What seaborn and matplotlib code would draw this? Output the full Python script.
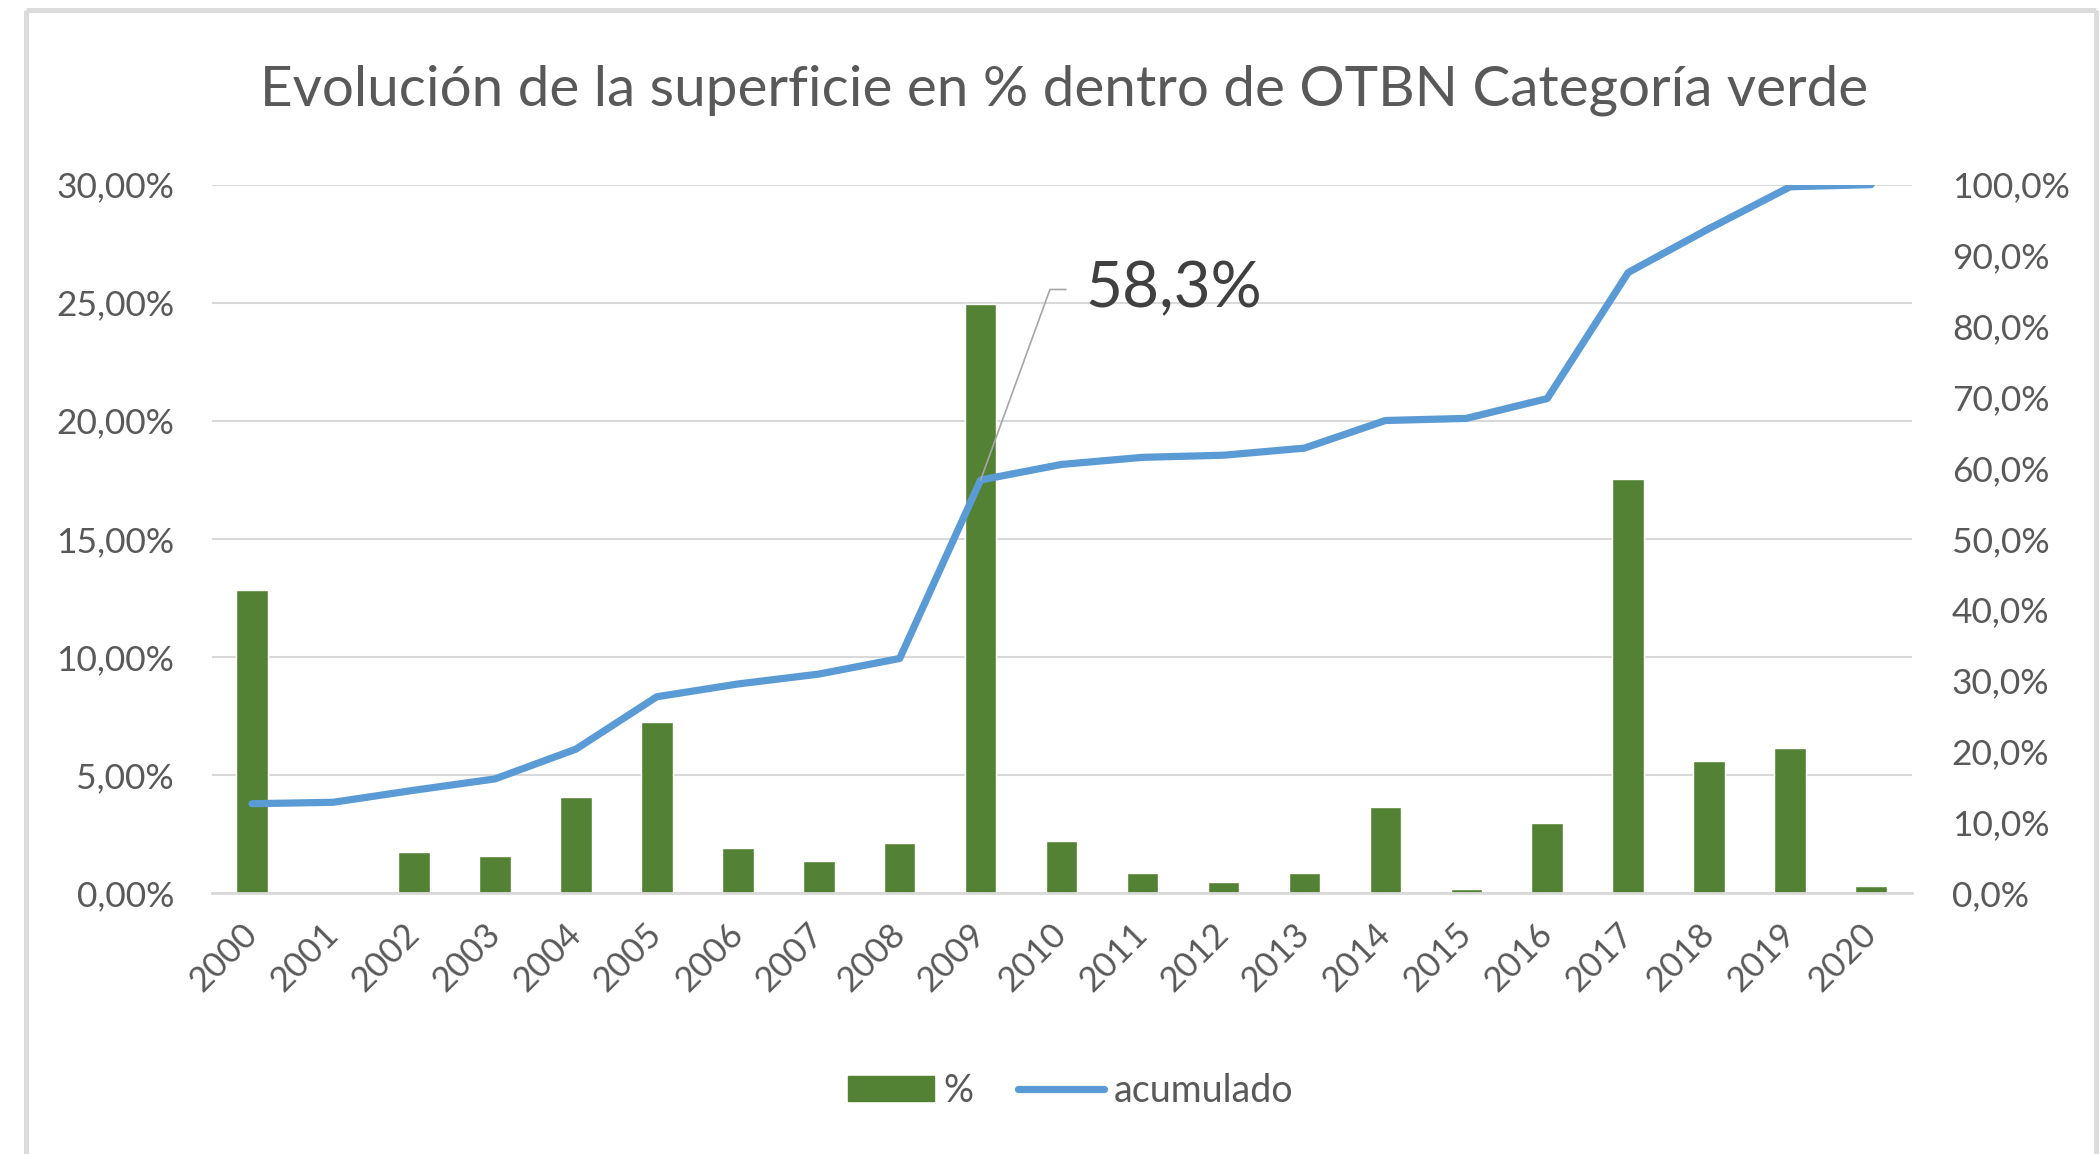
import numpy as np
import pandas as pd
import seaborn as sns
import matplotlib.pyplot as plt
from matplotlib.ticker import FuncFormatter, MultipleLocator
from matplotlib.patches import Patch
from matplotlib.lines import Line2D

# Datos
anios = [str(a) for a in range(2000, 2021)]
porcentaje = [12.85, 0.0, 1.75, 1.55, 4.05, 7.25, 1.90, 1.35, 2.10, 24.95, 2.20,
              0.85, 0.45, 0.85, 3.65, 0.15, 2.95, 17.55, 5.60, 6.15, 0.30]
acumulado = [12.6, 12.8, 14.5, 16.1, 20.3, 27.7, 29.5, 30.9, 33.1, 58.3, 60.5,
             61.5, 61.8, 62.8, 66.7, 67.0, 69.8, 87.6, 93.8, 99.7, 100.0]

df = pd.DataFrame({'anio': anios, 'pct': porcentaje, 'acum': acumulado})
df['pos'] = np.arange(len(df))

VERDE = '#548235'
AZUL = '#5b9bd5'
GRIS_TXT = '#595959'
GRIS_LIN = '#d9d9d9'

sns.set_theme(style='white')
plt.rcParams['font.family'] = ['Lato', 'DejaVu Sans']

fig = plt.figure(figsize=(20.99, 11.54), dpi=100)
ax = fig.add_axes([0.1008, 0.2262, 0.8099, 0.6138])
ax2 = ax.twinx()

# Barras (eje izquierdo)
sns.barplot(data=df, x='anio', y='pct', color=VERDE, width=0.39,
            saturation=1, ax=ax, zorder=2)
# Linea acumulada (eje derecho)
sns.lineplot(data=df, x='pos', y='acum', color=AZUL, linewidth=5.2,
             ax=ax2, solid_capstyle='round', zorder=3)

ax.set_xlim(-0.5, len(df) - 0.5)
ax.set_ylim(0, 30)
ax2.set_ylim(0, 100)
ax.yaxis.set_major_locator(MultipleLocator(5))
ax2.yaxis.set_major_locator(MultipleLocator(10))
ax.yaxis.set_major_formatter(FuncFormatter(lambda v, p: f'{v:.2f}%'.replace('.', ',')))
ax2.yaxis.set_major_formatter(FuncFormatter(lambda v, p: f'{v:.1f}%'.replace('.', ',')))

ax.grid(axis='y', color=GRIS_LIN, linewidth=1.5, zorder=0)
ax.set_axisbelow(True)
ax2.grid(False)

for a in (ax, ax2):
    for s in a.spines.values():
        s.set_visible(False)
    a.set_xlabel('')
    a.set_ylabel('')
ax.spines['bottom'].set_visible(True)
ax.spines['bottom'].set_color(GRIS_LIN)
ax.spines['bottom'].set_linewidth(2)

ax.tick_params(axis='y', length=0, pad=27, labelsize=25.5, labelcolor=GRIS_TXT)
ax2.tick_params(axis='y', length=0, pad=29, labelsize=25.5, labelcolor=GRIS_TXT)
ax.tick_params(axis='x', length=0, pad=26, labelsize=25, labelcolor=GRIS_TXT)
for lbl in ax.get_xticklabels():
    lbl.set_rotation(45)
    lbl.set_ha('right')
    lbl.set_va('center')
    lbl.set_rotation_mode('anchor')

# Etiqueta del punto 2009
ax2.annotate('58,3%', xy=(9, acumulado[9]), xytext=(10.3, 85.2),
             ha='left', va='center', fontsize=46, color='#404040',
             arrowprops=dict(arrowstyle='-', color='#a6a6a6', lw=1.2,
                             connectionstyle='angle,angleA=180,angleB=70,rad=0',
                             shrinkA=12, shrinkB=0))

fig.text(0.507, 0.922, 'Evolución de la superficie en % dentro de OTBN Categoría verde',
         ha='center', va='center', fontsize=40.8, color=GRIS_TXT)

handles = [Patch(facecolor=VERDE, edgecolor=VERDE),
           Line2D([0], [0], color=AZUL, linewidth=5.2, solid_capstyle='round')]
fig.legend(handles, ['%', 'acumulado'], loc='center', bbox_to_anchor=(0.51, 0.0546),
           ncol=2, frameon=False, fontsize=27, labelcolor=GRIS_TXT,
           handlelength=2.3, handleheight=0.65, handletextpad=0.25, columnspacing=1.2)

# Marco gris del grafico
marco = dict(color='#dcdcdc', linewidth=3.6, transform=fig.transFigure, solid_capstyle='butt')
fig.add_artist(Line2D([0.0124, 0.0124], [0, 0.9913], **marco))
fig.add_artist(Line2D([0.0124, 0.9986], [0.9913, 0.9913], **marco))
fig.add_artist(Line2D([0.9986, 0.9986], [0, 0.9913], **marco))

fig.savefig('out.png', dpi=100, facecolor='white')
